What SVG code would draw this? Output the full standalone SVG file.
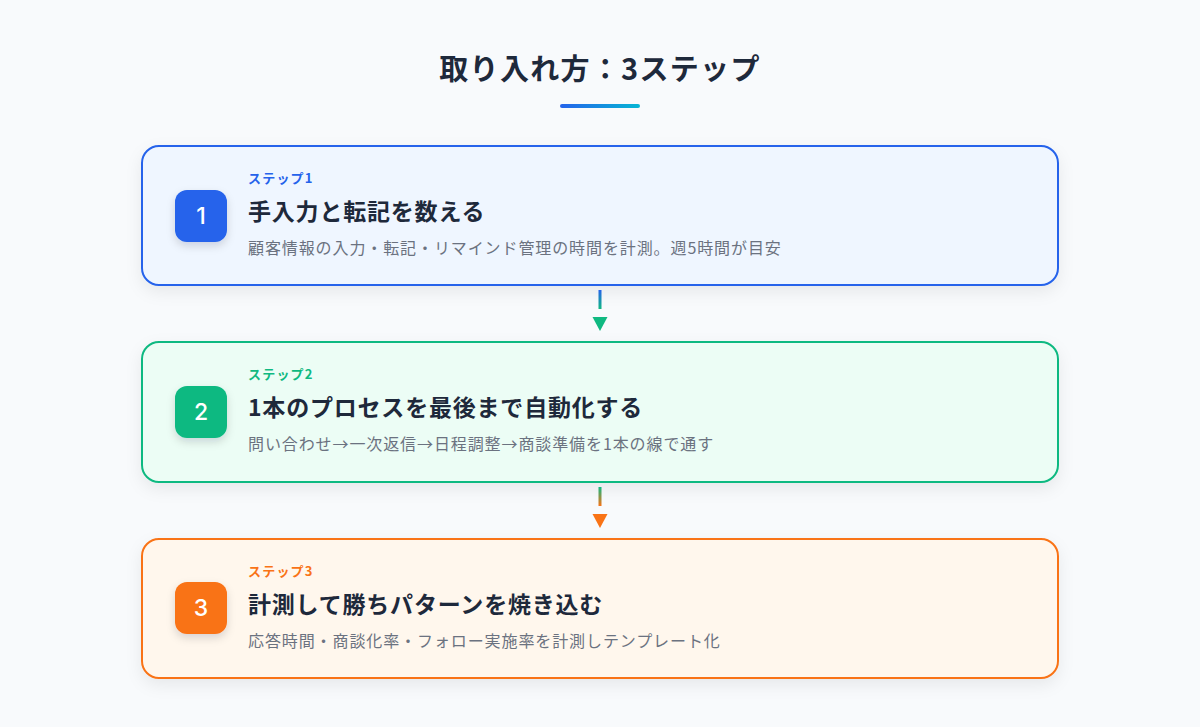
<svg xmlns="http://www.w3.org/2000/svg" width="1200" height="727" viewBox="0 0 1200 727">
<defs>
<linearGradient id="ul" x1="0" y1="0" x2="1" y2="0"><stop offset="0" stop-color="#2563eb"/><stop offset="1" stop-color="#06b6d4"/></linearGradient>
<linearGradient id="c1" x1="0" y1="0" x2="0" y2="1"><stop offset="0" stop-color="#2563eb"/><stop offset="1" stop-color="#10b981"/></linearGradient>
<linearGradient id="c2" x1="0" y1="0" x2="0" y2="1"><stop offset="0" stop-color="#10b981"/><stop offset="1" stop-color="#f97316"/></linearGradient>
<filter id="sh" x="-10%" y="-20%" width="120%" height="150%"><feDropShadow dx="0" dy="6" stdDeviation="8" flood-color="#0f172a" flood-opacity="0.07"/></filter>
<filter id="bsh" x="-40%" y="-40%" width="180%" height="180%"><feDropShadow dx="0" dy="4" stdDeviation="4" flood-color="#0f172a" flood-opacity="0.15"/></filter>
</defs>
<style>
text{font-family:"Noto Sans CJK JP","Noto Sans",sans-serif}
.title{font-size:29px;font-weight:700;fill:#1e293b;letter-spacing:1.3px}
.box{stroke-width:2}
.lab{font-size:13px;font-weight:700;letter-spacing:1.2px}
.head{font-size:23px;font-weight:700;fill:#1e293b;letter-spacing:0.8px}
.desc{font-size:16px;fill:#6b7280;letter-spacing:0.9px}
.num{font-size:23px;font-weight:500;fill:#ffffff;font-family:"Inter","Noto Sans",sans-serif}
</style>
<rect width="1200" height="727" fill="#f8fafc"/>
<text class="title" x="600" y="80" text-anchor="middle">取り入れ方：3ステップ</text>
<rect x="560" y="104" width="80" height="4" rx="2" fill="url(#ul)"/>

<g id="step1">
<rect class="box" x="142" y="146" width="916" height="139" rx="17" fill="#eff6ff" stroke="#2563eb" filter="url(#sh)"/>
<rect x="175" y="190" width="52" height="52" rx="12" fill="#2563eb" filter="url(#bsh)"/>
<text class="num" x="201" y="224" text-anchor="middle">1</text>
<text class="lab" x="248" y="183" fill="#2563eb">ステップ1</text>
<text class="head" x="248" y="220">手入力と転記を数える</text>
<text class="desc" x="248" y="254">顧客情報の入力・転記・リマインド管理の時間を計測。週5時間が目安</text>
</g>

<g id="step2">
<rect class="box" x="142" y="342" width="916" height="140" rx="17" fill="#ecfdf5" stroke="#10b981" filter="url(#sh)"/>
<rect x="175" y="386" width="52" height="52" rx="12" fill="#10b981" filter="url(#bsh)"/>
<text class="num" x="201" y="420" text-anchor="middle">2</text>
<text class="lab" x="248" y="379" fill="#10b981">ステップ2</text>
<text class="head" x="248" y="416">1本のプロセスを最後まで自動化する</text>
<text class="desc" x="248" y="450">問い合わせ→一次返信→日程調整→商談準備を1本の線で通す</text>
</g>

<g id="step3">
<rect class="box" x="142" y="539" width="916" height="139" rx="17" fill="#fff7ed" stroke="#f97316" filter="url(#sh)"/>
<rect x="175" y="582" width="52" height="52" rx="12" fill="#f97316" filter="url(#bsh)"/>
<text class="num" x="201" y="616" text-anchor="middle">3</text>
<text class="lab" x="248" y="576" fill="#f97316">ステップ3</text>
<text class="head" x="248" y="613">計測して勝ちパターンを焼き込む</text>
<text class="desc" x="248" y="647">応答時間・商談化率・フォロー実施率を計測しテンプレート化</text>
</g>

<g id="connectors">
<rect x="598.5" y="290" width="3" height="19" fill="url(#c1)"/>
<polygon points="592.5,317 607.5,317 600,331" fill="#10b981"/>
<rect x="598.5" y="487" width="3" height="19" fill="url(#c2)"/>
<polygon points="592.5,514 607.5,514 600,528" fill="#f97316"/>
</g>
</svg>
